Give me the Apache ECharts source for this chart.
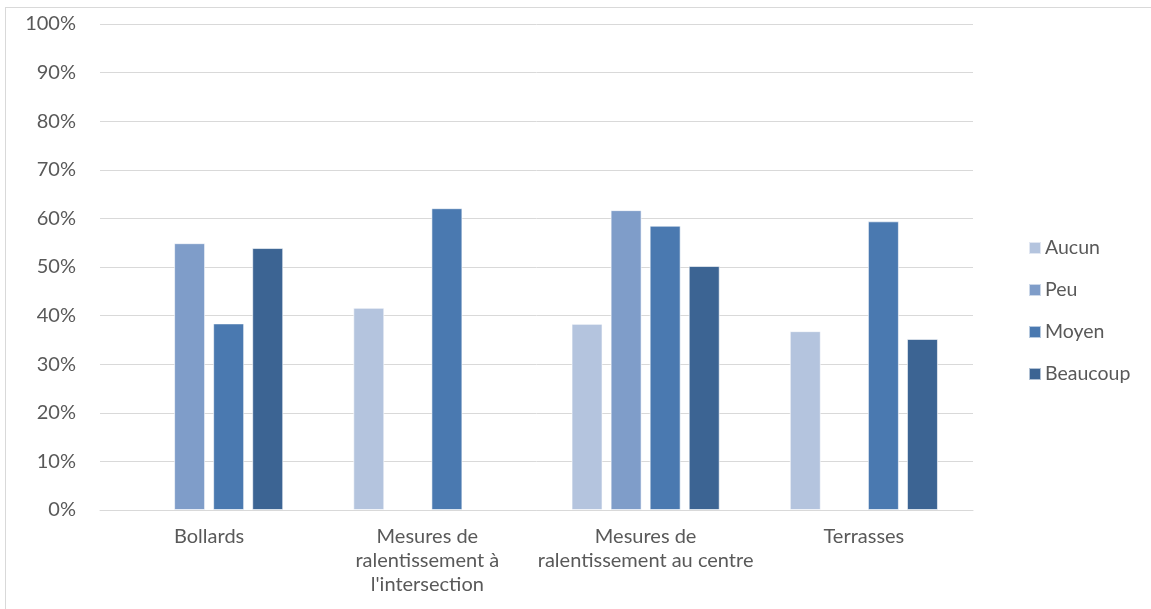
<!DOCTYPE html>
<html>
<head>
<meta charset="utf-8">
<script src="https://cdn.jsdelivr.net/npm/echarts@6/dist/echarts.min.js"></script>
<style>
  html, body { margin: 0; padding: 0; background: #fff; }
  #frame { position: absolute; left: 5px; top: 7px; width: 1160px; height: 620px; border: 1px solid #d9d9d9; box-sizing: border-box; }
  #main { position: absolute; left: 0; top: 0; width: 1151px; height: 609px; }
</style>
</head>
<body>
<div id="frame"></div>
<div id="main"></div>
<script>
  // categories et valeurs (en %)
  var categories = ['Bollards', 'Mesures de\nralentissement à\nl\'intersection', 'Mesures de\nralentissement au centre', 'Terrasses'];
  var aucun = [null, 41.6, 38.3, 36.8];
  var peu = [54.9, null, 61.7, null];
  var moyen = [38.4, 62.1, 58.5, 59.4];
  var beaucoup = [53.9, null, 50.2, 35.2];
  var seriesNames = ['Aucun', 'Peu', 'Moyen', 'Beaucoup'];
  var colors = ['#b4c4de', '#7f9dc9', '#4a79b0', '#3c6493'];

  var myChart = echarts.init(document.getElementById('main'));
  var font = 'Lato, "Open Sans", sans-serif';

  var seriesData = [aucun, peu, moyen, beaucoup];
  var series = seriesData.map(function (d, i) {
    return {
      name: seriesNames[i],
      type: 'bar',
      data: d,
      barWidth: 31,
      barGap: '26%',
      itemStyle: { color: colors[i], borderColor: 'rgba(255,255,255,0.6)', borderWidth: 1 }
    };
  });

  var option = {
    color: colors,
    animation: false,
    grid: { left: 100, right: 178, top: 24, bottom: 99 },
    legend: {
      orient: 'vertical',
      left: 1023,
      top: 233,
      itemWidth: 12,
      itemHeight: 12,
      itemGap: 22,
      icon: 'rect',
      textStyle: { fontFamily: font, fontSize: 19.5, color: '#595959', padding: [0, 0, 0, -1] },
      data: seriesNames
    },
    xAxis: {
      type: 'category',
      data: categories,
      axisLine: { lineStyle: { color: '#d9d9d9', width: 1 } },
      axisTick: { show: false },
      axisLabel: { fontFamily: font, fontSize: 20, color: '#595959', lineHeight: 24, margin: 15, interval: 0 }
    },
    yAxis: {
      type: 'value',
      min: 0,
      max: 100,
      interval: 10,
      axisLine: { show: false },
      axisTick: { show: false },
      splitLine: { lineStyle: { color: '#d9d9d9', width: 1 } },
      axisLabel: { fontFamily: font, fontSize: 20, color: '#595959', margin: 24, formatter: '{value}%' }
    },
    series: series
  };
  myChart.setOption(option);
</script>
</body>
</html>
